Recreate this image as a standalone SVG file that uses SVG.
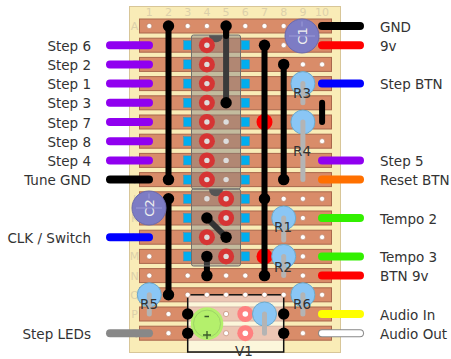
<svg xmlns="http://www.w3.org/2000/svg" xmlns:xlink="http://www.w3.org/1999/xlink" width="451" height="359" viewBox="0 0 451 359">
<style>
text{font-family:"DejaVu Sans",sans-serif}
.lbl{font-size:13.5px;fill:#333}
.l{text-anchor:end}
.grid{font-size:11px;fill:#dcd0aa;text-anchor:middle}
.strip{fill:#d98c69;stroke:#a9674c;stroke-width:1}
.sq{fill:#00aeef;stroke:#3a8fb5;stroke-width:.5}
.w{fill:none;stroke-width:8;stroke-linecap:round}
.bw{fill:none;stroke:#000;stroke-width:6;stroke-linecap:round}
.end{fill:#000}
.rname{font-size:13.5px;fill:#333;text-anchor:middle}
.head{fill:#8ac6f5;stroke:#6ea9c9;stroke-width:1}
.arm{fill:none;stroke:#b4b4b4;stroke-width:5;stroke-linecap:round}
.pad{fill:#d63434}
.rpad{fill:#f00}
.ppad{fill:#ff8080}
.ic{fill:#808080;fill-opacity:.45;stroke:#6f6f6f;stroke-width:1}
.cap{fill:#7d7cc4;stroke:#6a69ad;stroke-width:1}
.ct{font-size:13px;fill:#eee;text-anchor:middle}
</style>
<defs>
<circle id="d" r="2.6" fill="#fff" stroke="#b5765a" stroke-width=".6"/>
<circle id="g" r="2.7" fill="#ddd"/>
<rect id="s" class="sq" x="-4" y="-4.5" width="8" height="9"/>
<circle id="e" class="end" r="5.7"/>
</defs>
<g id="board">
<rect x="129.5" y="6.5" width="211" height="346" fill="#f9ecb7" stroke="#d8c698"/>
<g class="grid">
<text x="149.3" y="16">1</text><text x="168.5" y="16">2</text><text x="187.7" y="16">3</text><text x="206.9" y="16">4</text><text x="226.1" y="16">5</text><text x="245.3" y="16">6</text><text x="264.5" y="16">7</text><text x="283.7" y="16">8</text><text x="302.9" y="16">9</text><text x="322.1" y="16">10</text>
<text x="134.5" y="30">A</text><text x="134.5" y="49">B</text><text x="134.5" y="68">C</text><text x="134.5" y="88">D</text><text x="134.5" y="107">E</text><text x="134.5" y="126">F</text><text x="134.5" y="145">G</text><text x="134.5" y="164">H</text><text x="134.5" y="184">I</text><text x="134.5" y="203">J</text><text x="134.5" y="222">K</text><text x="134.5" y="241">L</text><text x="134.5" y="260">M</text><text x="134.5" y="280">N</text><text x="134.5" y="299">O</text><text x="134.5" y="318">P</text><text x="134.5" y="337">Q</text>
</g>
<g class="strips">
<rect class="strip" x="139.5" y="19" width="192" height="14"/><rect class="strip" x="139.5" y="38.2" width="192" height="14"/><rect class="strip" x="139.5" y="57.4" width="192" height="14"/><rect class="strip" x="139.5" y="76.6" width="192" height="14"/><rect class="strip" x="139.5" y="95.8" width="192" height="14"/><rect class="strip" x="139.5" y="115" width="192" height="14"/><rect class="strip" x="139.5" y="134.2" width="192" height="14"/><rect class="strip" x="139.5" y="153.4" width="192" height="14"/><rect class="strip" x="139.5" y="172.6" width="192" height="14"/><rect class="strip" x="139.5" y="191.8" width="192" height="14"/><rect class="strip" x="139.5" y="211" width="192" height="14"/><rect class="strip" x="139.5" y="230.2" width="192" height="14"/><rect class="strip" x="139.5" y="249.4" width="192" height="14"/><rect class="strip" x="139.5" y="268.6" width="192" height="14"/><rect class="strip" x="139.5" y="287.8" width="192" height="14"/><rect class="strip" x="139.5" y="307" width="192" height="14"/><rect class="strip" x="139.5" y="326.2" width="192" height="14"/>
</g>
<g id="holes">
<use href="#d" x="149.3" y="26"/><use href="#d" x="187.7" y="26"/><use href="#d" x="206.9" y="26"/><use href="#d" x="245.3" y="26"/><use href="#d" x="264.5" y="26"/><use href="#d" x="283.7" y="26"/>
<use href="#d" x="283.7" y="45.2"/><use href="#d" x="302.9" y="64.4"/><use href="#d" x="322.1" y="64.4"/><use href="#d" x="322.1" y="141.2"/>
<use href="#d" x="283.7" y="198.8"/><use href="#d" x="302.9" y="198.8"/><use href="#d" x="322.1" y="198.8"/><use href="#d" x="302.9" y="218"/><use href="#d" x="302.9" y="237.2"/><use href="#d" x="322.1" y="237.2"/>
<use href="#d" x="149.3" y="256.4"/><use href="#d" x="302.9" y="256.4"/>
<use href="#d" x="149.3" y="275.6"/><use href="#d" x="187.7" y="275.6"/><use href="#d" x="226.1" y="275.6"/><use href="#d" x="245.3" y="275.6"/><use href="#d" x="302.9" y="275.6"/>
<use href="#d" x="168.5" y="314"/><use href="#d" x="168.5" y="333.2"/><use href="#d" x="302.9" y="333.2"/><use href="#d" x="322.1" y="294.8"/>
</g>
<g id="squares">
<use href="#s" x="187.7" y="45.2"/><use href="#s" x="187.7" y="64.4"/><use href="#s" x="187.7" y="83.6"/><use href="#s" x="187.7" y="102.8"/><use href="#s" x="187.7" y="122"/><use href="#s" x="187.7" y="141.2"/><use href="#s" x="187.7" y="160.4"/><use href="#s" x="187.7" y="179.6"/><use href="#s" x="187.7" y="198.8"/><use href="#s" x="187.7" y="218"/><use href="#s" x="187.7" y="237.2"/><use href="#s" x="187.7" y="256.4"/>
<use href="#s" x="245.3" y="45.2"/><use href="#s" x="245.3" y="64.4"/><use href="#s" x="245.3" y="83.6"/><use href="#s" x="245.3" y="102.8"/><use href="#s" x="245.3" y="122"/><use href="#s" x="245.3" y="141.2"/><use href="#s" x="245.3" y="160.4"/><use href="#s" x="245.3" y="179.6"/><use href="#s" x="245.3" y="198.8"/><use href="#s" x="245.3" y="218"/><use href="#s" x="245.3" y="237.2"/><use href="#s" x="245.3" y="256.4"/>
</g>
<g id="red-pads">
<circle class="rpad" cx="264.5" cy="122" r="8"/><circle class="rpad" cx="264.5" cy="256.4" r="8"/>
</g>
</g>
<g id="connectors-under">
<path class="bw" d="M226.1 26V102.8"/>
<path class="bw" d="M206.9 256.4V275.6"/>
</g>
<g id="U1">
<rect class="ic" x="191.5" y="35" width="49" height="154" rx="2"/>
<path d="M209 35.3a7 7 0 0 0 14 0z" fill="#555"/>
<circle class="pad" cx="206.9" cy="45.2" r="8"/><circle class="pad" cx="206.9" cy="64.4" r="8"/><circle class="pad" cx="206.9" cy="83.6" r="8"/><circle class="pad" cx="206.9" cy="102.8" r="8"/><circle class="pad" cx="206.9" cy="122" r="8"/><circle class="pad" cx="206.9" cy="141.2" r="8"/><circle class="pad" cx="206.9" cy="160.4" r="8"/><circle class="pad" cx="206.9" cy="179.6" r="8"/>
<use href="#g" x="206.9" y="45.2"/><use href="#g" x="206.9" y="64.4"/><use href="#g" x="206.9" y="83.6"/><use href="#g" x="206.9" y="102.8"/><use href="#g" x="206.9" y="122"/><use href="#g" x="206.9" y="141.2"/><use href="#g" x="206.9" y="160.4"/><use href="#g" x="206.9" y="179.6"/>
<use href="#g" x="226.1" y="122"/><use href="#g" x="226.1" y="141.2"/><use href="#g" x="226.1" y="160.4"/><use href="#g" x="226.1" y="179.6"/>
</g>
<g id="U2">
<rect class="ic" x="191.5" y="189" width="49" height="77" rx="2"/>
<path d="M209 189.3a7 7 0 0 0 14 0z" fill="#555"/>
<circle class="pad" cx="226.1" cy="198.8" r="8"/><circle class="pad" cx="226.1" cy="218" r="8"/><circle class="pad" cx="206.9" cy="237.2" r="8"/><circle class="pad" cx="226.1" cy="256.4" r="8"/>
<use href="#g" x="206.9" y="198.8"/><use href="#g" x="226.1" y="198.8"/><use href="#g" x="226.1" y="218"/><use href="#g" x="206.9" y="237.2"/><use href="#g" x="226.1" y="256.4"/>
</g>
<g id="connectors">
<path class="bw" d="M168.5 26V179.6M168.5 198.8V294.8M264.5 45.2V275.6M283.7 64.4V179.6M322.1 102.8V122"/>
<path class="bw" d="M226.1 26V36"/>
<path d="M206.9 218L226.1 237.2" fill="none" stroke="#333" stroke-width="6"/>
<use href="#e" x="168.5" y="26"/><use href="#e" x="168.5" y="179.6"/><use href="#e" x="168.5" y="198.8"/><use href="#e" x="168.5" y="294.8"/>
<use href="#e" x="226.1" y="26"/><use href="#e" x="226.1" y="102.8"/><use href="#e" x="264.5" y="45.2"/><use href="#e" x="264.5" y="198.8"/><use href="#e" x="264.5" y="275.6"/><use href="#e" x="283.7" y="64.4"/><use href="#e" x="283.7" y="179.6"/>
<use href="#e" x="206.9" y="218"/><use href="#e" x="226.1" y="237.2"/><use href="#e" x="206.9" y="256.4"/><use href="#e" x="206.9" y="275.6"/>
<path class="w" stroke="#9000f0" d="M110 45.2H149M110 64.4H149M110 83.6H149M110 102.8H149M110 122H149M110 141.2H149M110 160.4H149M322 160.4H360"/>
<path class="w" stroke="#000" d="M110 179.6H149M322 26H360"/>
<path class="w" stroke="#00f" d="M110 237.2H149M322 83.6H360"/>
<path class="w" stroke="#888" d="M110 333.2H149"/>
<path class="w" stroke="#f00" d="M322 45.2H360M322 275.6H360"/>
<path class="w" stroke="#ff7000" d="M322 179.6H360"/>
<path class="w" stroke="#33f000" d="M322 218H360M322 256.4H360"/>
<path class="w" stroke="#ff0" d="M322 314H360"/>
<path class="w" stroke="#888" d="M322 333.2H360"/>
<path d="M322 333.2H360" fill="none" stroke="#fff" stroke-width="6" stroke-linecap="round"/>
</g>
<g id="V1">
<rect x="187.7" y="294.8" width="96" height="57.2" fill="#fff" fill-opacity=".5" stroke="#111" stroke-width="1.5"/>
<use href="#d" x="187.7" y="294.8"/><use href="#d" x="206.9" y="294.8"/><use href="#d" x="226.1" y="294.8"/><use href="#d" x="245.3" y="294.8"/><use href="#d" x="264.5" y="294.8"/><use href="#d" x="283.7" y="294.8"/>
<use href="#d" x="226.1" y="314"/><use href="#d" x="226.1" y="333.2"/>
<circle class="ppad" cx="245.3" cy="314" r="8"/><circle cx="245.3" cy="314" r="2.8" fill="#fff"/>
<circle class="ppad" cx="245.3" cy="333.2" r="8"/><circle cx="245.3" cy="333.2" r="2.8" fill="#fff"/>
<circle cx="207" cy="323.6" r="16.3" fill="#b4f06c"/><circle cx="207" cy="323.6" r="13.5" fill="none" stroke="#9ed466" stroke-width="1"/>
<path d="M204.5 316.5H209M203 335H211M207 331V339" stroke="#3a5a2a" stroke-width="1.3" fill="none"/>
<circle class="head" cx="264.5" cy="314" r="12"/><path class="arm" d="M264.5 314V333.2"/>
<use href="#e" x="187.7" y="314"/><use href="#e" x="187.7" y="333.2"/><use href="#e" x="283.7" y="314"/><use href="#e" x="283.7" y="333.2"/>
<text class="lbl" x="244" y="355.5" text-anchor="middle">V1</text>
</g>
<g id="C1"><circle class="cap" cx="302" cy="36" r="17"/><path d="M302 21.5v5M289 36h26" stroke="#9c9bd8" fill="none"/><text class="ct" transform="translate(306.5 36) rotate(-90)">C1</text></g>
<g id="C2"><circle class="cap" cx="149" cy="208" r="17"/><path d="M149 193.5v5M136 208h26" stroke="#9c9bd8" fill="none"/><text class="ct" transform="translate(153.5 208) rotate(-90)">C2</text></g>
<g id="R3"><circle class="head" cx="302.9" cy="83.6" r="12"/><path class="arm" d="M302.9 83.6V102.8"/><text class="rname" x="302" y="98">R3</text></g>
<g id="R4"><circle class="head" cx="302.9" cy="122" r="12"/><path class="arm" d="M302.9 122V179.6"/><text class="rname" x="302" y="156">R4</text></g>
<g id="R1"><circle class="head" cx="283.7" cy="218" r="12"/><path class="arm" d="M283.7 218V240"/><text class="rname" x="283" y="232">R1</text></g>
<g id="R2"><circle class="head" cx="283.7" cy="256.4" r="12"/><path class="arm" d="M283.7 256.4V275.6"/><text class="rname" x="283" y="272">R2</text></g>
<g id="R5"><circle class="head" cx="149.3" cy="294.8" r="12"/><path class="arm" d="M149.3 294.8V314"/><text class="rname" x="149" y="309">R5</text></g>
<g id="R6"><circle class="head" cx="302.9" cy="294.8" r="12"/><path class="arm" d="M302.9 294.8V314"/><text class="rname" x="302" y="309">R6</text></g>
<g id="labels">
<g class="lbl l">
<text x="91" y="51">Step 6</text><text x="91" y="70">Step 2</text><text x="91" y="89">Step 1</text><text x="91" y="108">Step 3</text><text x="91" y="128">Step 7</text><text x="91" y="147">Step 8</text><text x="91" y="166">Step 4</text><text x="91" y="185">Tune GND</text><text x="91" y="243">CLK / Switch</text><text x="91" y="339">Step LEDs</text>
</g>
<g class="lbl">
<text x="380" y="32">GND</text><text x="380" y="51">9v</text><text x="380" y="89">Step BTN</text><text x="380" y="166">Step 5</text><text x="380" y="185">Reset BTN</text><text x="380" y="224">Tempo 2</text><text x="380" y="262">Tempo 3</text><text x="380" y="281">BTN 9v</text><text x="380" y="320">Audio In</text><text x="380" y="339">Audio Out</text>
</g>
</g>
</svg>
